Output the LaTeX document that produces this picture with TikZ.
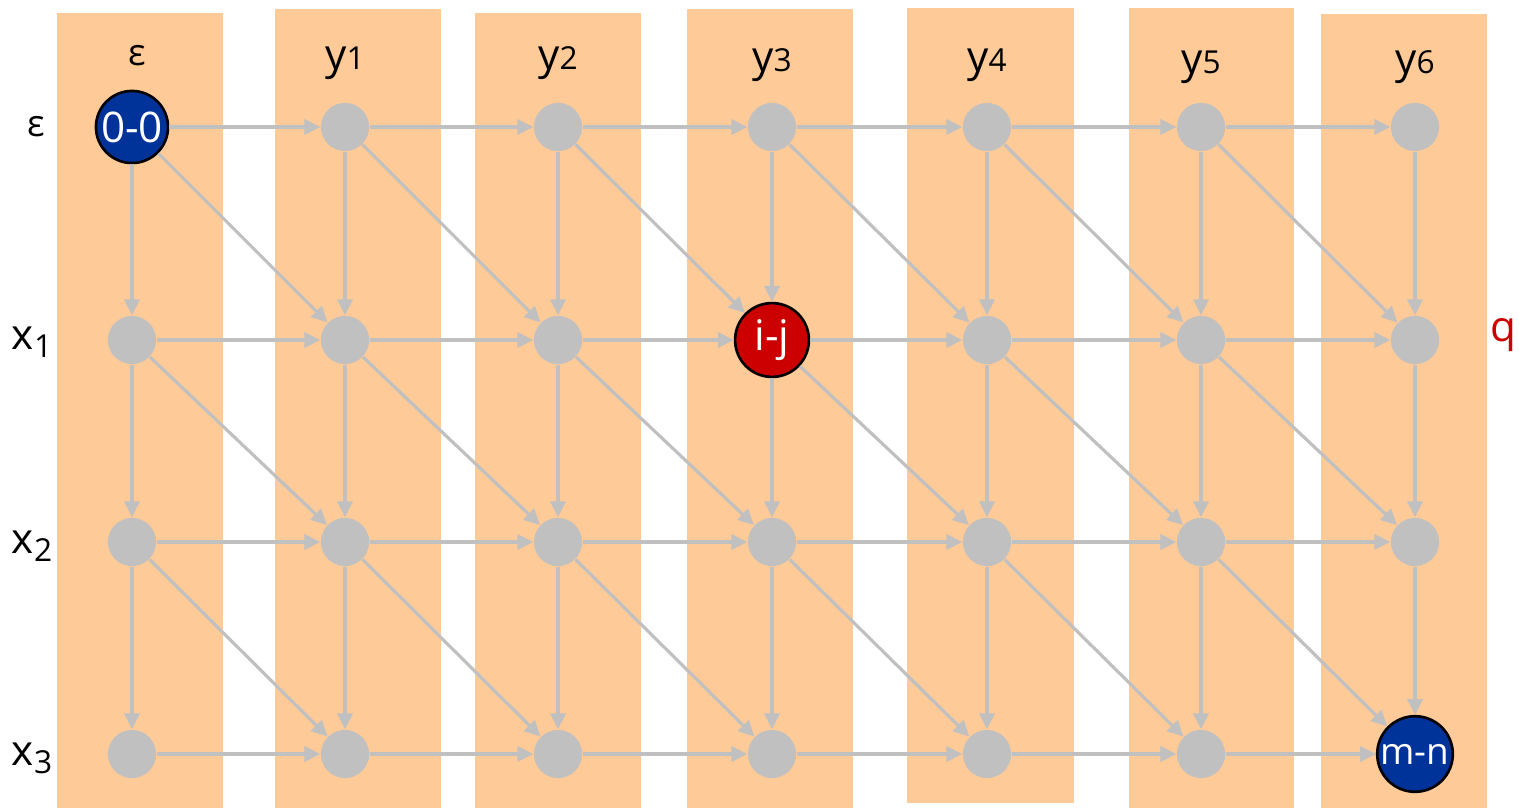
\documentclass[tikz,border=0pt]{standalone}
\usepackage{fontspec}
\setmainfont{Open Sans}
\usetikzlibrary{arrows.meta}
\definecolor{band}{HTML}{FECA98}
\definecolor{nodegray}{HTML}{C0C0C0}
\definecolor{dblue}{HTML}{003399}
\definecolor{dred}{HTML}{CC0000}
\begin{document}
\begin{tikzpicture}[x=0.01cm,y=-0.01cm,
  stage/.style={fill=band},
  cell/.style={circle,fill=nodegray,minimum size=13.7pt,inner sep=0pt},
  special/.style={circle,draw=black,line width=0.75pt,minimum size=20.5pt,inner sep=-4pt,text=white,font=\fontsize{12}{14}\selectfont},
  edge/.style={draw=nodegray,line width=0.9pt,-{Triangle[length=4.5pt,width=4.3pt]}},
  lbl/.style={font=\fontsize{12}{14}\selectfont,text=black},
  eps/.style={font=\fontsize{10.5}{12}\selectfont,text=black}]
\useasboundingbox (0,0) rectangle (1519,809);
% bands
\path[stage] (57,13) rectangle (223,808);
\path[stage] (275,9) rectangle (441,808);
\path[stage] (475,13) rectangle (641,808);
\path[stage] (687,9) rectangle (853,808);
\path[stage] (907,8) rectangle (1074,803);
\path[stage] (1129,8) rectangle (1294,808);
\path[stage] (1321,14) rectangle (1487,808);
% grid nodes
\foreach \c/\x in {0/132,1/345,2/558,3/772,4/987,5/1201,6/1415}{
  \foreach \r/\y in {0/127,1/340,2/542,3/754}{
    \ifnum\r\c=0 \else\ifnum\r\c=13 \else\ifnum\r\c=36 \else
      \node[cell] (n\r\c) at (\x,\y) {};
    \fi\fi\fi
  }
}
\node[special,fill=dblue] (n00) at (132,127) {0-0};
\node[special,fill=dred,minimum size=21pt] (n13) at (772,340) {i-j};
\node[special,fill=dblue,minimum size=21.5pt,inner sep=-6pt,font=\fontsize{10.5}{12}\selectfont] (n36) at (1415,754) {m-n};
% edges
\foreach \r in {0,...,3}{
  \foreach \c in {0,...,6}{
    \pgfmathtruncatemacro\cn{\c+1}
    \pgfmathtruncatemacro\rn{\r+1}
    \ifnum\c<6 \draw[edge] (n\r\c) -- (n\r\cn); \fi
    \ifnum\r<3 \draw[edge] (n\r\c) -- (n\rn\c); \fi
    \ifnum\c<6 \ifnum\r<3 \draw[edge] (n\r\c) -- (n\rn\cn); \fi\fi
  }
}
% column labels
\node[eps] (ceps) at (137,56) {ε};
\node[lbl] (cy1) at (345,63) {y{\fontsize{9}{9}\selectfont 1}};
\node[lbl] (cy2) at (558,63) {y{\fontsize{9}{9}\selectfont 2}};
\node[lbl] (cy3) at (772,65) {y{\fontsize{9}{9}\selectfont 3}};
\node[lbl] (cy4) at (987,65) {y{\fontsize{9}{9}\selectfont 4}};
\node[lbl] (cy5) at (1201,67) {y{\fontsize{9}{9}\selectfont 5}};
\node[lbl] (cy6) at (1415,67) {y{\fontsize{9}{9}\selectfont 6}};
% row labels
\node[eps] (reps) at (36,127) {ε};
\node[lbl] (rx1) at (32,342) {x\raisebox{-0.35ex}{\fontsize{9}{9}\selectfont 1}};
\node[lbl] (rx2) at (32,546) {x\raisebox{-0.35ex}{\fontsize{9}{9}\selectfont 2}};
\node[lbl] (rx3) at (32,758) {x\raisebox{-0.35ex}{\fontsize{9}{9}\selectfont 3}};
\node[lbl,text=dred] (q) at (1503,335) {q};
\end{tikzpicture}
\end{document}
